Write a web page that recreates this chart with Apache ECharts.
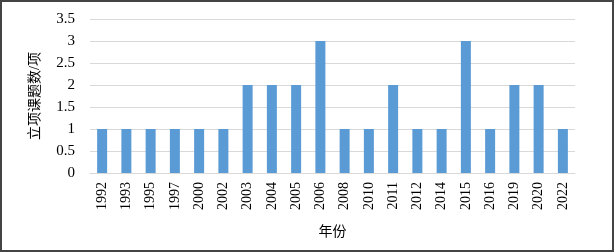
<!DOCTYPE html>
<html>
<head>
<meta charset="utf-8">
<script src="https://cdn.jsdelivr.net/npm/echarts@6/dist/echarts.min.js"></script>
<style>
  html, body { margin: 0; padding: 0; background: #fff; }
  #wrap { position: relative; width: 614px; height: 252px; }
  #chart { width: 614px; height: 252px; }
  #frame {
    position: absolute; left: 0; top: 0; width: 614px; height: 252px;
    box-sizing: border-box; border: 2px solid #444; pointer-events: none;
  }
</style>
</head>
<body>
<div id="wrap">
  <div id="chart"></div>
  <div id="frame"></div>
</div>
<script>
const years = ["1992", "1993", "1995", "1997", "2000", "2002", "2003", "2004", "2005", "2006",
  "2008", "2010", "2011", "2012", "2014", "2015", "2016", "2019", "2020", "2022"]
const counts = [1, 1, 1, 1, 1, 1, 2, 2, 2, 3, 1, 1, 2, 1, 1, 3, 1, 2, 2, 1]

const font = "'Liberation Serif', 'Noto Sans CJK SC', serif"

const myChart = echarts.init(document.getElementById("chart"))

const option = {
  animation: false,
  grid: { left: 90, right: 39, top: 19, bottom: 79 },
  xAxis: {
    type: "category",
    data: years,
    name: "年份",
    nameLocation: "middle",
    nameGap: 52,
    nameTextStyle: { fontFamily: font, fontSize: 14, color: "#000" },
    axisTick: { show: false },
    axisLine: { lineStyle: { color: "#d9d9d9", width: 1 } },
    axisLabel: {
      rotate: 90,
      interval: 0,
      margin: 9,
      fontFamily: font,
      fontSize: 14,
      color: "#000",
    },
  },
  yAxis: {
    type: "value",
    min: 0,
    max: 3.5,
    interval: 0.5,
    name: "立项课题数/项",
    nameLocation: "middle",
    nameRotate: 90,
    nameGap: 48,
    nameTextStyle: { fontFamily: font, fontSize: 14, color: "#000" },
    axisLine: { show: false },
    axisTick: { show: false },
    axisLabel: { margin: 15, fontFamily: font, fontSize: 15, color: "#000" },
    splitLine: { lineStyle: { color: "#d9d9d9", width: 1 } },
  },
  series: [
    {
      type: "bar",
      data: counts,
      barWidth: 10,
      itemStyle: { color: "#5b9bd5" },
    },
  ],
}

myChart.setOption(option)
</script>
</body>
</html>
